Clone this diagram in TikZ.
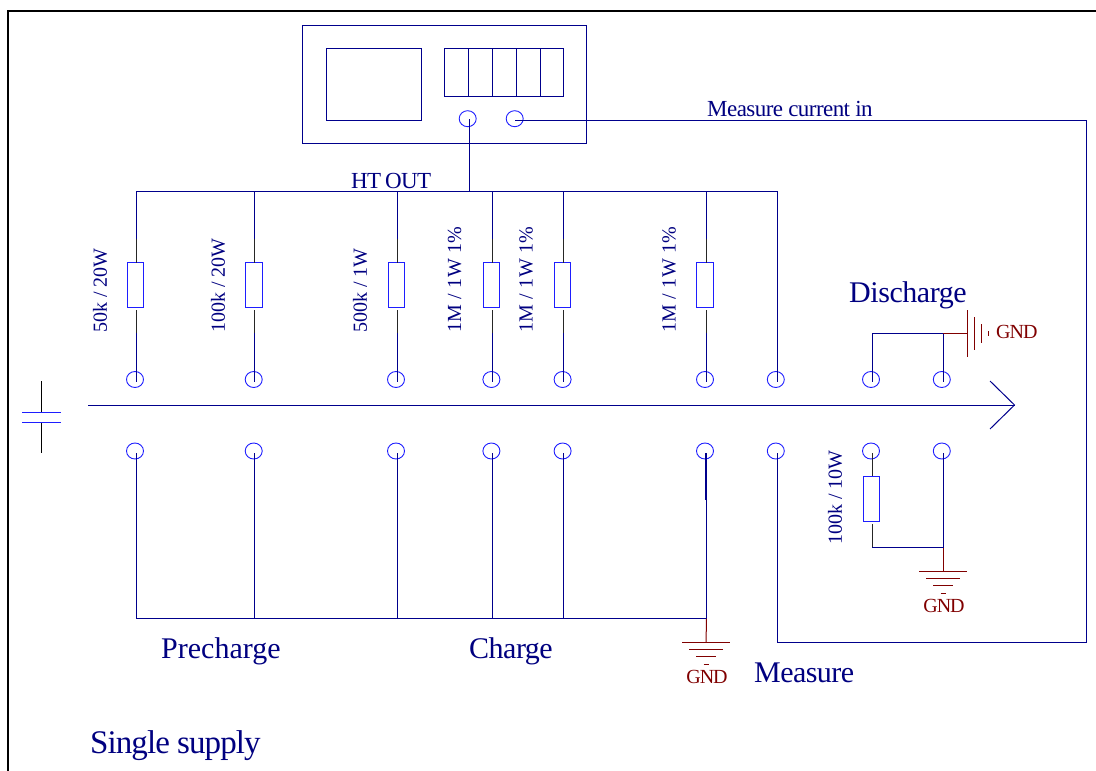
\documentclass[tikz,border=0pt]{standalone}
\usepackage{fontspec}
\setmainfont{Liberation Serif}
\newcommand{\lsp}[1]{\addfontfeature{LetterSpace=#1}}
\definecolor{wirec}{RGB}{0,0,140}
\definecolor{txtc}{RGB}{0,0,128}
\definecolor{gndc}{RGB}{128,0,0}
\definecolor{partc}{RGB}{30,30,255}
\tikzset{
  wire/.style={draw=wirec,line width=1pt},
  pin/.style={draw=black!85,line width=1pt},
  gndline/.style={draw=gndc,line width=1pt},
  term/.style={draw=partc,line width=.9pt,ellipse,minimum width=17pt,minimum height=16pt,inner sep=0pt},
  res/.style={draw=partc,line width=.9pt,fill=white,rectangle,minimum width=16.5pt,minimum height=45pt,inner sep=0pt},
  panel/.style={draw=wirec,line width=1pt,rectangle,inner sep=0pt},
  vallab/.style={text=txtc,font=\fontsize{20}{20}\selectfont,rotate=90,anchor=west,inner sep=0pt},
  sect/.style={text=txtc,font=\fontsize{30}{30}\selectfont,inner sep=0pt,anchor=base west},
  small/.style={text=txtc,font=\fontsize{23}{23}\selectfont,inner sep=0pt,anchor=base west},
  gndtxt/.style={text=gndc,font=\fontsize{20}{20}\selectfont,inner sep=0pt}
}
\usetikzlibrary{shapes.geometric}
\begin{document}
\begin{tikzpicture}[x=1pt,y=-1pt]
\useasboundingbox (0,0) rectangle (1096,771);
% outer frame
\coordinate (fa) at (8,771); \coordinate (fb) at (8,11); \coordinate (fc) at (1096,11);
\draw[black,line width=2.4pt] (fa) -- (fb) -- (fc);
% instrument
\node[panel,minimum width=284.5pt,minimum height=118.5pt] (inst) at (444.7,84.5) {};
\node[panel,minimum width=95pt,minimum height=71.5pt] (screen) at (373.9,84.5) {};
\foreach \n/\x in {1/456.6,2/480.5,3/504.4,4/528.2,5/551.9}
  \node[panel,minimum width=23.8pt,minimum height=47.6pt] (btn\n) at (\x,72.5) {};
\node[term] (portA) at (467.7,118.7) {};
\node[term] (portB) at (514.7,118.7) {};
% HT bus and lower bus corners
\coordinate (htL) at (136.2,191); \coordinate (htR) at (777,191);
\coordinate (htT) at (469,191); \coordinate (pt) at (469,119);
\coordinate (loL) at (136.2,618.5); \coordinate (loR) at (706.3,618.5);
\draw[wire] (pt) -- (htT);
\draw[wire] (htL) -- (htR);
\draw[wire] (loL) -- (loR);
\node[small] (ht) at (351,188) {\lsp{-3}HT\hspace{-1pt} OUT};
% switched branches with resistors
\foreach \n/\x/\rx/\lx/\txt in {
  1/135/135.3/100/{50k / 20W},
  2/253.7/253.7/218/{100k / 20W},
  3/396/396.3/360/{500k / 1W},
  4/491.4/491.2/454.6/{\lsp{2}1M / 1W 1\%},
  5/562.6/562.3/526/{\lsp{2}1M / 1W 1\%},
  6/705/704.8/669/{\lsp{2}1M / 1W 1\%}}{
  \node[term] (u\n) at (\x,379.5) {};
  \node[term] (l\n) at (\x,451) {};
  \node[res] (r\n) at (\rx,285) {};
  \node[vallab] (t\n) at (\lx,333) {\txt};
  \coordinate (wt\n) at (\x+1.2,191);
  \coordinate (wb\n) at (\x+1.2,381.5);
  \coordinate (wc\n) at (\x+1.2,262.5);
  \coordinate (wd\n) at (\x+1.2,310);
  \coordinate (wp\n) at (\x+1.2,239);
  \coordinate (wq\n) at (\x+1.2,333);
  \coordinate (wl\n) at (\x+1.2,453);
  \coordinate (wg\n) at (\x+1.2,618.5);
  \draw[wire] (wt\n) -- (wp\n);
  \draw[pin] (wp\n) -- (wc\n);
  \draw[pin] (wd\n) -- (wq\n);
  \draw[wire] (wq\n) -- (wb\n);
  \draw[wire] (wl\n) -- (wg\n);
}
\draw[draw=wirec,line width=1.7pt] (wl6) -- ++(0,47);
% measure terminal
\node[term] (u7) at (775.8,379.5) {};
\node[term] (l7) at (775.8,451) {};
\coordinate (mb) at (777,381.5); \coordinate (ml) at (777,453);
\coordinate (mc) at (777,642); \coordinate (md) at (1086,642); \coordinate (me) at (1086,120);
\coordinate (mf) at (515,120);
\draw[wire] (htR) -- (mb);
\draw[wire] (ml) -- (mc) -- (md) -- (me) -- (mf);
% discharge terminals
\node[term] (u8) at (871,379.5) {};
\node[term] (u9) at (941.8,379.5) {};
\node[term] (l8) at (871,451) {};
\node[term] (l9) at (941.8,451) {};
\coordinate (da) at (872.2,381.5); \coordinate (db) at (872.2,333.5);
\coordinate (dc) at (943.2,333.5); \coordinate (dd) at (943.2,381.5);
\coordinate (de) at (967,333.5);
\draw[wire] (da) -- (db) -- (dc);
\draw[wire] (dc) -- (dd);
\draw[gndline] (dc) -- (de);
% right-hand ground (rotated symbol)
\coordinate (ga1) at (967,310); \coordinate (ga2) at (967,357);
\coordinate (gb1) at (974.3,317); \coordinate (gb2) at (974.3,350);
\coordinate (gc1) at (981.3,324); \coordinate (gc2) at (981.3,343);
\coordinate (gd1) at (988.5,331); \coordinate (gd2) at (988.5,336);
\draw[gndline] (ga1) -- (ga2) (gb1) -- (gb2) (gc1) -- (gc2) (gd1) -- (gd2);
\node[gndtxt,anchor=west] (gndR) at (996,334) {\lsp{-5}GND\vphantom{g}};
% 100k / 10W
\node[res] (r7) at (871.3,498.5) {};
\node[vallab,anchor=west] (t7) at (835,545) {100k / 10W};
\coordinate (pa) at (872.2,453); \coordinate (pb) at (872.2,476);
\coordinate (pc) at (872.2,524); \coordinate (pd) at (872.2,547.5);
\coordinate (pe) at (943.2,547.5); \coordinate (pf) at (943.2,453);
\coordinate (pg) at (943.2,571);
\draw[pin] (pa) -- (pb);
\draw[pin] (pc) -- (pd);
\draw[wire] (pd) -- (pe);
\draw[wire] (pf) -- (pe);
\draw[gndline] (pe) -- (pg);
% lower-right ground
\coordinate (h1) at (919,571); \coordinate (h2) at (967,571);
\coordinate (h3) at (926,578); \coordinate (h4) at (960,578);
\coordinate (h5) at (933,585.5); \coordinate (h6) at (953,585.5);
\coordinate (h7) at (940.5,593); \coordinate (h8) at (945.5,593);
\draw[gndline] (h1) -- (h2) (h3) -- (h4) (h5) -- (h6) (h7) -- (h8);
\node[gndtxt] (gndA) at (944,608) {\lsp{-5}GND\vphantom{g}};
% lower-bus ground
\coordinate (k0) at (706.2,642);
\coordinate (k1) at (682,642); \coordinate (k2) at (730,642);
\coordinate (k3) at (689,649); \coordinate (k4) at (723,649);
\coordinate (k5) at (696,656.5); \coordinate (k6) at (716,656.5);
\coordinate (k7) at (703.5,664); \coordinate (k8) at (708.5,664);
\draw[gndline] (loR) -- (k0);
\draw[gndline] (k1) -- (k2) (k3) -- (k4) (k5) -- (k6) (k7) -- (k8);
\node[gndtxt] (gndB) at (707,679) {\lsp{-5}GND\vphantom{g}};
% main arrow
\coordinate (a0) at (88,405); \coordinate (a1) at (1014.5,405);
\coordinate (a2) at (990,381); \coordinate (a3) at (990,429);
\draw[wire] (a0) -- (a1);
\draw[wire] (a2) -- (a1) -- (a3);
% capacitor
\coordinate (c0) at (41.5,381); \coordinate (c1) at (41.5,412.5);
\coordinate (c2) at (41.5,422); \coordinate (c3) at (41.5,453);
\coordinate (c4) at (22,412.5); \coordinate (c5) at (61,412.5);
\coordinate (c6) at (22,422); \coordinate (c7) at (61,422);
\draw[black,line width=.9pt] (c0) -- (c1) (c2) -- (c3);
\draw[draw=partc,line width=1pt] (c4) -- (c5) (c6) -- (c7);
% labels
\node[small] (mci) at (707,116) {\lsp{-2.4}Measure current in};
\node[sect] (discharge) at (849,302) {\lsp{-1.5}Discharge};
\node[sect] (precharge) at (161,658) {Precharge};
\node[sect] (charge) at (469,658) {\lsp{-1.7}Charge};
\node[sect] (measure) at (754,682) {\lsp{-1.9}Measure};
\node[sect,font=\fontsize{33}{33}\selectfont] (single) at (90,753) {\lsp{-2.8}Single supply};
\end{tikzpicture}
\end{document}
